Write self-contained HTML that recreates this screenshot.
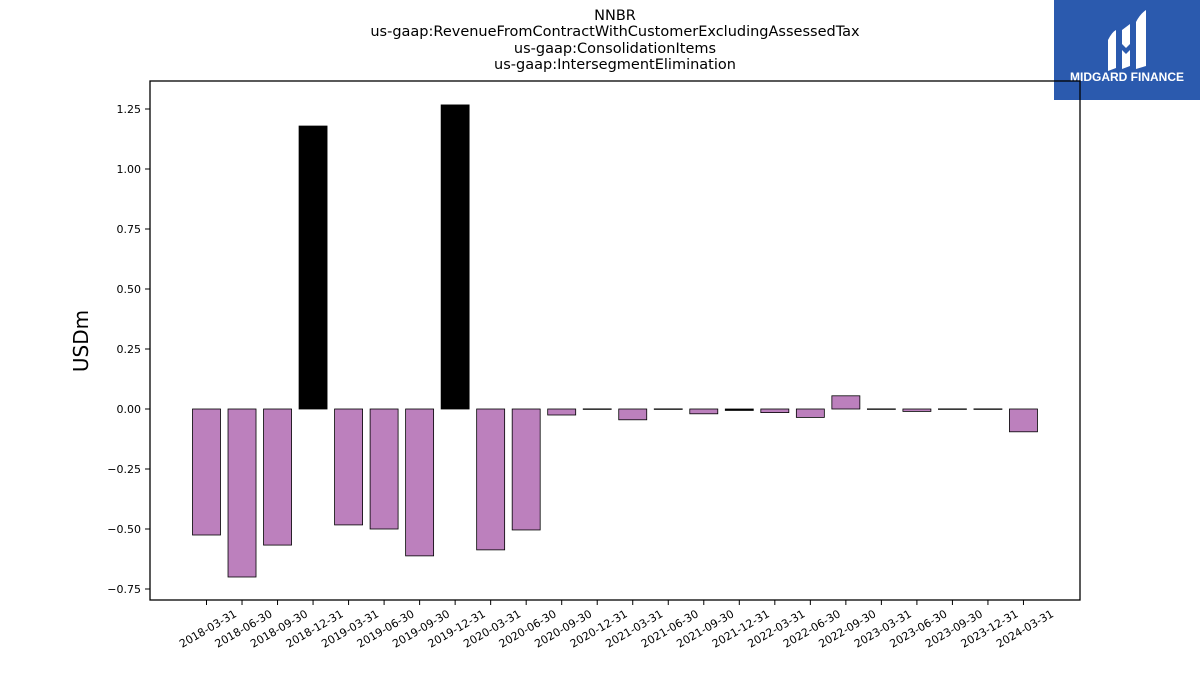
<!DOCTYPE html>
<html><head><meta charset="utf-8"><style>
body{margin:0;background:#fff;font-family:"Liberation Sans","DejaVu Sans",sans-serif}
</style></head><body>
<svg id="c" width="1200" height="675" xmlns="http://www.w3.org/2000/svg" font-family="DejaVu Sans, Liberation Sans, sans-serif">
<g font-size="14.5" text-anchor="middle" fill="#000">
<text x="615" y="20">NNBR</text>
<text x="615" y="36">us-gaap:RevenueFromContractWithCustomerExcludingAssessedTax</text>
<text x="615" y="53">us-gaap:ConsolidationItems</text>
<text x="615" y="69">us-gaap:IntersegmentElimination</text>
</g>
<g>
<rect x="1054" y="0" width="146" height="100" fill="#2b5aae"/>
<path d="M1108 40 q4-8 8-10 v38 l-8 3z M1122 30 l8-6 v20 l-4 4 l-4-4z M1122 50 l4 4 l4-4 v16 l-8 3z M1136 22 q4-8 10-12 v56 l-10 3z" fill="#fff"/>
<text x="1127" y="81" font-size="12" font-weight="bold" fill="#fff" text-anchor="middle" font-family="Liberation Sans, sans-serif">MIDGARD FINANCE</text>
</g>
<text x="0" y="0" font-size="20" text-anchor="middle" transform="translate(88,341) rotate(-90)">USDm</text>
<g id="plot"></g>
<rect x="150" y="81" width="930" height="519" fill="none" stroke="#000" stroke-width="1.3"/>
</svg>
<script>
const categories=["2018-03-31","2018-06-30","2018-09-30","2018-12-31","2019-03-31","2019-06-30","2019-09-30","2019-12-31","2020-03-31","2020-06-30","2020-09-30","2020-12-31","2021-03-31","2021-06-30","2021-09-30","2021-12-31","2022-03-31","2022-06-30","2022-09-30","2023-03-31","2023-06-30","2023-09-30","2023-12-31","2024-03-31"];
const values=[-0.525,-0.70,-0.567,1.179,-0.483,-0.50,-0.612,1.267,-0.587,-0.504,-0.025,0.0005,-0.045,0.0005,-0.02,-0.006,-0.015,-0.035,0.055,0.0005,-0.01,0.0005,0.0005,-0.095];
const colors=["p","p","p","k","p","p","p","k","p","p","p","p","p","p","p","k","p","p","p","p","p","p","p","p"];
const yTicks=[-0.75,-0.5,-0.25,0,0.25,0.5,0.75,1.0,1.25];
const yTickLabels=["−0.75","−0.50","−0.25","0.00","0.25","0.50","0.75","1.00","1.25"];
const NS="http://www.w3.org/2000/svg";
const g=document.getElementById('plot');
const y=v=>409-v*240;
const x=i=>206.5+i*35.52;
function mk(t,a){const e=document.createElementNS(NS,t);for(const k in a)e.setAttribute(k,a[k]);g.appendChild(e);return e;}
yTicks.forEach((v,i)=>{
 const l=mk('line',{x1:145,x2:150,y1:y(v),y2:y(v),stroke:'#000'});
 
 
 const t=mk('text',{x:141,y:y(v)+4,'font-size':11,'text-anchor':'end'});
 t.textContent=yTickLabels[i];
 
 
});
categories.forEach((c,i)=>{
 const v=values[i];
 const top=Math.min(y(v),y(0)),h=Math.max(Math.abs(y(v)-y(0)),0.5);
 const r=mk('rect',{x:x(i)-14,y:top,width:28,height:h,fill:colors[i]=='k'?'#000':'#bc80bd',stroke:'#000','stroke-width':0.8});
 
 
 const tk=mk('line',{x1:x(i),x2:x(i),y1:600,y2:605,stroke:'#000'});
 
 
 const t=mk('text',{x:0,y:0,'font-size':11,'text-anchor':'end',transform:`translate(${x(i)+31},${616}) rotate(-30)`});
 t.textContent=c;
 
 
});
</script>
</body></html>
